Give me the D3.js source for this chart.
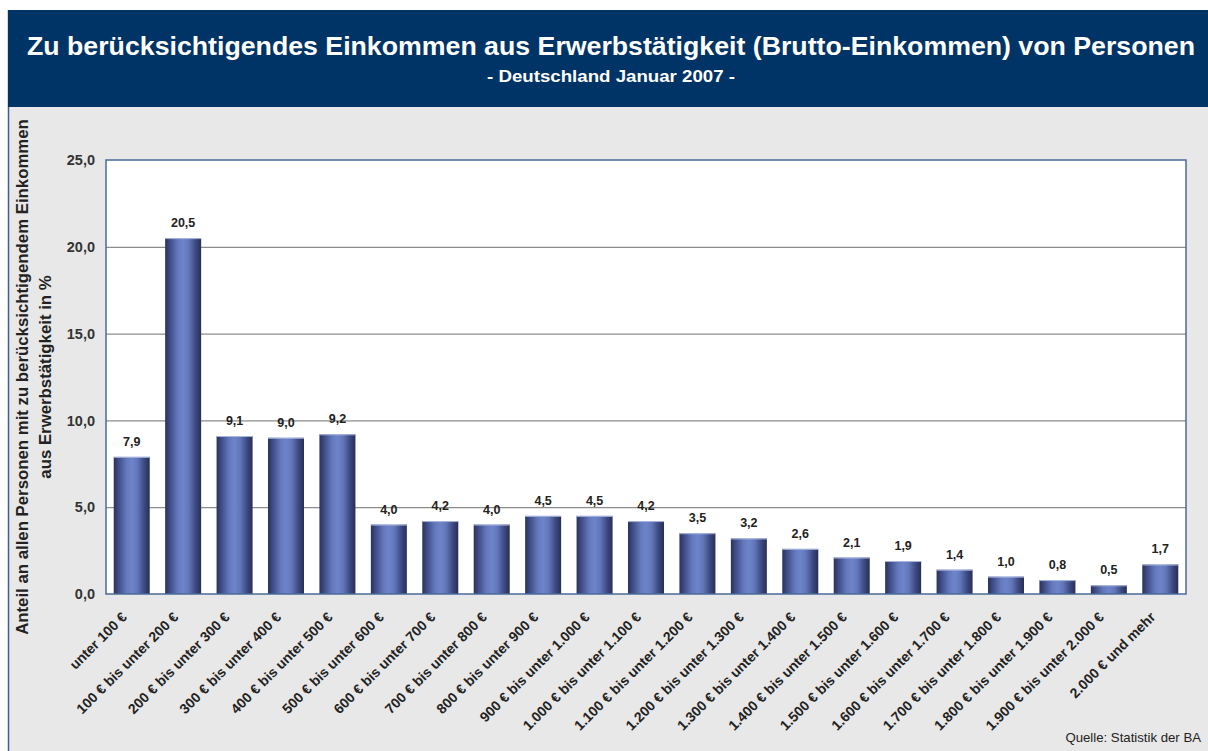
<!DOCTYPE html>
<html><head><meta charset="utf-8">
<script src="https://cdn.jsdelivr.net/npm/d3@7"></script>
<style>html,body{margin:0;padding:0;background:#fff;}svg{display:block;}</style>
</head><body>
<script>
const categories = ["unter 100 €","100 € bis unter 200 €","200 € bis unter 300 €","300 € bis unter 400 €","400 € bis unter 500 €","500 € bis unter 600 €","600 € bis unter 700 €","700 € bis unter 800 €","800 € bis unter 900 €","900 € bis unter 1.000 €","1.000 € bis unter 1.100 €","1.100 € bis unter 1.200 €","1.200 € bis unter 1.300 €","1.300 € bis unter 1.400 €","1.400 € bis unter 1.500 €","1.500 € bis unter 1.600 €","1.600 € bis unter 1.700 €","1.700 € bis unter 1.800 €","1.800 € bis unter 1.900 €","1.900 € bis unter 2.000 €","2.000 € und mehr"];
const values = [7.9,20.5,9.1,9.0,9.2,4.0,4.2,4.0,4.5,4.5,4.2,3.5,3.2,2.6,2.1,1.9,1.4,1.0,0.8,0.5,1.7];
const yTicks = [0,5,10,15,20,25];
const title = "Zu berücksichtigendes Einkommen aus Erwerbstätigkeit (Brutto-Einkommen) von Personen";
const subtitle = "- Deutschland Januar 2007 -";
const yTitle = ["Anteil an allen Personen mit zu berücksichtigendem Einkommen","aus Erwerbstätigkeit  in %"];
const source = "Quelle: Statistik der BA";

const W=1208,H=751;
const fmt = d3.formatLocale({decimal:",",thousands:".",grouping:[3],currency:["","€"]}).format(".1f");
const svg=d3.select("body").append("svg").attr("width",W).attr("height",H);
const defs=svg.append("defs");
const g=defs.append("linearGradient").attr("id","bar").attr("x1","0").attr("x2","1").attr("y1","0").attr("y2","0");
[[0,"#29325a"],[0.12,"#3d4a83"],[0.35,"#6478bc"],[0.5,"#6e84ca"],[0.65,"#6378bb"],[0.85,"#3c4980"],[1,"#272f55"]].forEach(([o,c])=>g.append("stop").attr("offset",o).attr("stop-color",c));

const font="Liberation Sans, Arial, sans-serif";
// background
svg.append("rect").attr("x",8).attr("y",10).attr("width",W-8).attr("height",H-10).attr("fill","#e8e8e8");
svg.append("line").attr("x1",8.5).attr("x2",8.5).attr("y1",10).attr("y2",H).attr("stroke","#3d5f8f").attr("stroke-width",1.5);
// header
svg.append("rect").attr("x",8).attr("y",10).attr("width",W-8).attr("height",97).attr("fill","#003366");
svg.append("text").attr("x",611).attr("y",55).attr("text-anchor","middle").attr("fill","#fff")
  .attr("font-family",font).attr("font-weight","bold").attr("font-size",26)
  .attr("textLength",1168).attr("lengthAdjust","spacingAndGlyphs").text(title);
svg.append("text").attr("x",611).attr("y",82).attr("text-anchor","middle").attr("fill","#fff")
  .attr("font-family",font).attr("font-weight","bold").attr("font-size",17)
  .attr("textLength",248).attr("lengthAdjust","spacingAndGlyphs").text(subtitle);

const L=106,R=1186,T=160,B=594;
const x=d3.scaleBand().domain(categories).range([L,R]).paddingInner(0.3).paddingOuter(0.15);
const y=d3.scaleLinear().domain([0,25]).range([B,T]);

svg.append("rect").attr("x",L).attr("y",T).attr("width",R-L).attr("height",B-T).attr("fill","#fff");
svg.append("g").selectAll("line").data(yTicks.filter(d=>d>0&&d<25)).join("line")
  .attr("x1",L).attr("x2",R).attr("y1",d=>y(d)+0.5).attr("y2",d=>y(d)+0.5)
  .attr("stroke","#8c8c8c").attr("stroke-width",1.2);

const yAxis=svg.append("g").attr("transform",`translate(${L},0)`)
  .call(d3.axisLeft(y).tickValues(yTicks).tickFormat(fmt).tickSize(0).tickPadding(11));
yAxis.select(".domain").remove();
yAxis.selectAll("text").attr("font-family",font).attr("font-weight","bold").attr("font-size",14.5).attr("fill","#333");

svg.append("g").selectAll("rect").data(values).join("rect")
  .attr("x",(d,i)=>x(categories[i])).attr("width",x.bandwidth())
  .attr("y",d=>y(d)).attr("height",d=>y(0)-y(d)).attr("fill","url(#bar)");
svg.append("g").selectAll("line").data(values).join("line")
  .attr("x1",(d,i)=>x(categories[i])).attr("x2",(d,i)=>x(categories[i])+x.bandwidth())
  .attr("y1",d=>y(d)+0.5).attr("y2",d=>y(d)+0.5).attr("stroke","#a9b6e0").attr("stroke-width",1);
svg.append("g").selectAll("text").data(values).join("text")
  .attr("x",(d,i)=>x(categories[i])+x.bandwidth()/2).attr("y",d=>y(d)-11)
  .attr("text-anchor","middle").attr("font-family",font).attr("font-weight","bold").attr("font-size",12.5).attr("fill","#222")
  .text(d=>fmt(d));

svg.append("rect").attr("x",L).attr("y",T).attr("width",R-L).attr("height",B-T).attr("fill","none")
  .attr("stroke","#4a6a98").attr("stroke-width",1.5);

const xAxis=svg.append("g").attr("transform",`translate(0,${B})`)
  .call(d3.axisBottom(x).tickSize(0).tickPadding(0));
xAxis.select(".domain").remove();
xAxis.selectAll("text").attr("font-family",font).attr("font-weight","bold").attr("font-size",14).attr("fill","#222")
  .attr("text-anchor","end").attr("dy","0").attr("transform","translate(-4,24) rotate(-45)");

const yt=svg.append("text").attr("transform","translate(0,377) rotate(-90)").attr("text-anchor","middle")
  .attr("font-family",font).attr("font-size",16.8).attr("fill","#222").attr("font-weight","bold");
yt.append("tspan").attr("x",0).attr("y",28).text(yTitle[0]);
yt.append("tspan").attr("x",0).attr("y",51).text(yTitle[1]);

svg.append("text").attr("x",1201).attr("y",742).attr("text-anchor","end").attr("font-family",font)
  .attr("font-size",13.2).attr("fill","#222").text(source);
</script>
</body></html>
